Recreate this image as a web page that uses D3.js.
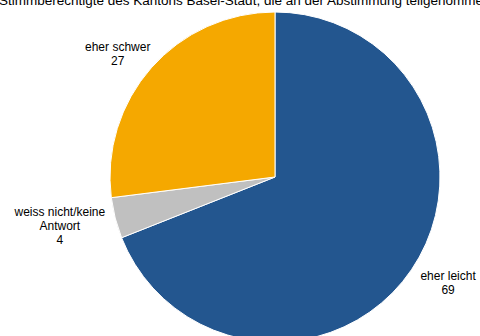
<!DOCTYPE html>
<html>
<head>
<meta charset="utf-8">
<script src="https://cdn.jsdelivr.net/npm/d3@7"></script>
<style>
  html, body { margin: 0; padding: 0; background: #fff; }
  svg { display: block; font-family: "Liberation Sans", Arial, sans-serif; }
</style>
</head>
<body>
<svg id="chart" width="480" height="336"></svg>
<script>
// Survey answers (percent)
const categories = ["eher leicht", "weiss nicht/keine Antwort", "eher schwer"];
const labelLines = [["eher leicht"], ["weiss nicht/keine", "Antwort"], ["eher schwer"]];
const values = [69, 4, 27];
const colors = ["#23568f", "#c0c0c0", "#f5a800"];
const title = "Stimmberechtigte des Kantons Basel-Stadt, die an der Abstimmung teilgenommen haben";

const svg = d3.select("#chart");
const cx = 275, cy = 177, radius = 165;

svg.append("text")
  .attr("x", -1).attr("y", 5)
  .attr("font-size", 13.5).attr("fill", "#000")
  .text(title);

const pie = d3.pie().sort(null).value(d => d.value);
const data = categories.map((c, i) => ({ name: c, value: values[i], lines: labelLines[i], color: colors[i] }));
const arcs = pie(data);
const arc = d3.arc().innerRadius(0).outerRadius(radius);

const g = svg.append("g").attr("transform", `translate(${cx},${cy})`);
g.selectAll("path").data(arcs).join("path")
  .attr("d", arc)
  .attr("fill", d => d.data.color)
  .attr("stroke", "#fff")
  .attr("stroke-width", 1);

// Labels sit just outside each slice, pushed away from the pie
const lineH = 14;
const labelR = radius + 8;
arcs.forEach(a => {
  const mid = (a.startAngle + a.endAngle) / 2;
  const s = Math.sin(mid), c = Math.cos(mid);
  const px = labelR * s, py = -labelR * c;
  const lines = a.data.lines.concat([String(a.data.value)]);
  const t = g.append("text")
    .attr("font-size", 12).attr("fill", "#000")
    .attr("text-anchor", "middle");
  lines.forEach((ln, i) => {
    t.append("tspan").attr("x", 0).attr("dy", i === 0 ? 0 : lineH).text(ln);
  });
  const bb = t.node().getBBox();
  const w = bb.width, h = lines.length * lineH;
  const left = s > 0 ? px + 2 : px - w * (1 - s) / 2 - 3;
  const top = py - h * (1 + c) / 2;
  t.attr("transform", `translate(${left + w / 2},${top + 12})`);
});
</script>
</body>
</html>
